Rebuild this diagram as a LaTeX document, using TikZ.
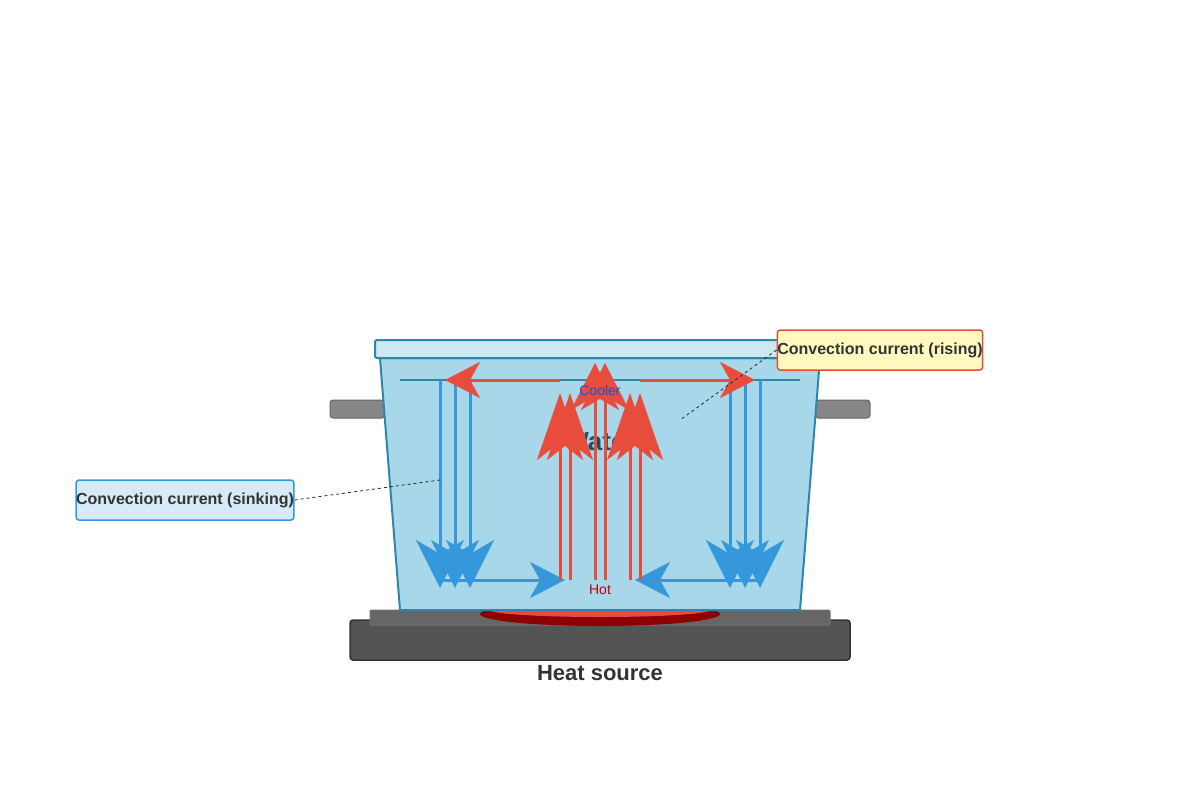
\documentclass[tikz,border=0pt]{standalone}
\usepackage{fontspec}
\setmainfont{Liberation Sans}
\usetikzlibrary{arrows.meta,shapes.geometric}
\definecolor{potb}{HTML}{2E86AB}
\definecolor{water}{HTML}{A9D7EA}
\definecolor{rim}{HTML}{CDE8F1}
\definecolor{cblue}{HTML}{3498DB}
\definecolor{cred}{HTML}{E74C3C}
\definecolor{txt}{HTML}{333333}
\tikzset{
 down/.style={cblue,line width=3pt,-{Stealth[width=48pt,length=48pt,inset=14pt]}},
 side/.style={cblue,line width=3pt,-{Stealth[width=36pt,length=35pt,inset=10pt]}},
 upside/.style={cred,line width=3pt,-{Stealth[width=46pt,length=67pt,inset=18pt]}},
 upmid/.style={cred,line width=3pt,-{Stealth[width=48pt,length=47pt,inset=14pt]}},
 tophor/.style={cred,line width=3pt,-{Stealth[width=36pt,length=35pt,inset=10pt]}},
 lbl/.style={draw,line width=1.5pt,rounded corners=3pt,font=\bfseries\fontsize{16}{18}\selectfont,text=txt,inner sep=0pt},
 lead/.style={black!85,dashed,line width=0.8pt},
}
\begin{document}
\begin{tikzpicture}[x=1pt,y=-1pt]
\useasboundingbox (0,0) rectangle (1200,800);
% stove
\draw[fill=black!67,draw=black!80,line width=1.5pt,rounded corners=3pt] (350,620) rectangle (850,660);
\draw[fill=black!60,draw=black!55,line width=1pt,rounded corners=1pt] (370,610) rectangle (830,625);
\fill[fill=red!55!black] (600,614) ellipse [x radius=120,y radius=12];
\fill[fill=cred] (600,610) ellipse [x radius=110,y radius=7];
% handles
\draw[fill=black!47,draw=black!60,line width=1pt,rounded corners=3pt] (330,400) rectangle (385,418);
\draw[fill=black!47,draw=black!60,line width=1pt,rounded corners=3pt] (815,400) rectangle (870,418);
% pot
\draw[fill=water,draw=potb,line width=2pt] (380,358) -- (820,358) -- (800,610) -- (400,610) -- cycle;
\draw[fill=rim,draw=potb,line width=2pt,rounded corners=2pt] (375,340) rectangle (825,358);
\draw[potb,line width=1.5pt] (400,380) -- (800,380);
\node[font=\bfseries\fontsize{26}{30}\selectfont,text=potb!60!black] (water) at (600,442) {Water};
% blue sinking
\foreach \x/\n in {440/a,455/b,470/c,730/d,745/e,760/f}{
  \coordinate (s\n) at (\x,380); \coordinate (e\n) at (\x,588);
  \draw[down] (s\n) -- (e\n);}
\coordinate (bl1) at (440,580); \coordinate (bl2) at (565,580);
\coordinate (br1) at (760,580); \coordinate (br2) at (635,580);
\draw[side] (bl1) -- (bl2);
\draw[side] (br1) -- (br2);
% red rising
\foreach \x/\n in {560/a,570/b,630/c,640/d}{
  \coordinate (r\n) at (\x,580); \coordinate (t\n) at (\x,393);
  \draw[upside] (r\n) -- (t\n);}
\foreach \x/\n in {595/e,605/f}{
  \coordinate (r\n) at (\x,580); \coordinate (t\n) at (\x,363);
  \draw[upmid] (r\n) -- (t\n);}
\coordinate (h1) at (560,380); \coordinate (h2) at (445,380);
\coordinate (h3) at (640,380); \coordinate (h4) at (755,380);
\draw[tophor] (h1) -- (h2);
\draw[tophor] (h3) -- (h4);
\node[font=\fontsize{14}{16}\selectfont,text=potb!60!blue] (cool) at (600,390) {Cooler};
\node[font=\fontsize{14}{16}\selectfont,text=red!75!black] (hot) at (600,590) {Hot};
% labels
\node[lbl,fill=orange!20!yellow!25,draw=cred,minimum width=200pt,minimum height=40pt] (rise) at (880,350) {Convection current (rising)};
\node[lbl,fill=cblue!20,draw=cblue,minimum width=210pt,minimum height=40pt] (sink) at (185,500) {Convection current (sinking)};
\coordinate (p1) at (680,420); \coordinate (p2) at (440,480);
\draw[lead] (rise.west) -- (p1);
\draw[lead] (sink.east) -- (p2);
\node[font=\bfseries\fontsize{22}{26}\selectfont,text=txt] (heat) at (600,673) {Heat source};
\end{tikzpicture}
\end{document}
